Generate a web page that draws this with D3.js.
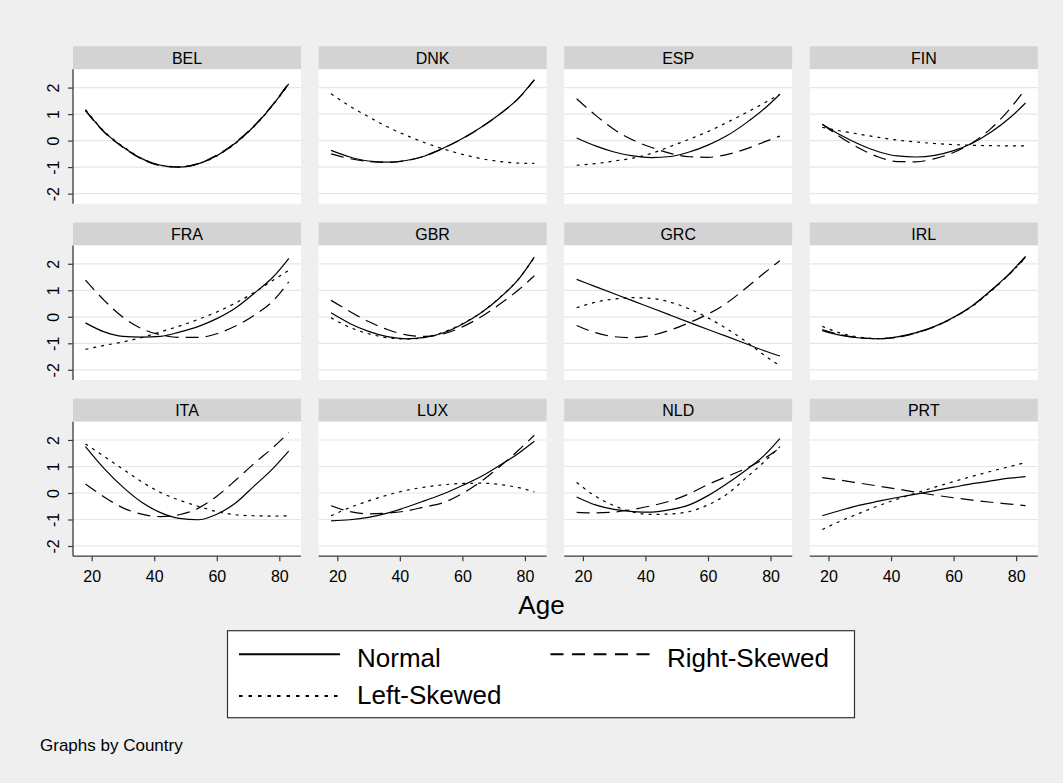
<!DOCTYPE html>
<html>
<head>
<meta charset="utf-8">
<script src="https://cdn.jsdelivr.net/npm/d3@7"></script>
<style>
  body { margin: 0; background: #efefef; }
  svg { display: block; }
  text { font-family: "Liberation Sans", Arial, Helvetica, sans-serif; fill: #000; }
</style>
</head>
<body>
<svg id="chart" width="1063" height="783"></svg>
<script>
// Facet order (left to right, top to bottom)
const countries = ["BEL", "DNK", "ESP", "FIN", "FRA", "GBR", "GRC", "IRL", "ITA", "LUX", "NLD", "PRT"];

// Ages at which each fitted profile is given
const ages = [18, 24, 30, 36, 42, 48, 54, 60, 66, 72, 78, 83];

// Fitted values per country (same order as countries), one array per distribution
const normalValues = [
  [1.15, 0.33, -0.24, -0.68, -0.93, -1.00, -0.88, -0.57, -0.09, 0.55, 1.36, 2.14],   // BEL
  [-0.37, -0.62, -0.77, -0.81, -0.75, -0.58, -0.28, 0.08, 0.50, 1.00, 1.60, 2.30],   // DNK
  [0.10, -0.20, -0.43, -0.58, -0.64, -0.60, -0.43, -0.17, 0.18, 0.65, 1.20, 1.75],   // ESP
  [0.62, 0.20, -0.15, -0.42, -0.58, -0.62, -0.56, -0.38, -0.10, 0.32, 0.86, 1.42],   // FIN
  [-0.23, -0.57, -0.74, -0.77, -0.74, -0.58, -0.37, -0.07, 0.33, 0.89, 1.50, 2.20],  // FRA
  [0.15, -0.25, -0.55, -0.75, -0.83, -0.78, -0.60, -0.28, 0.15, 0.72, 1.42, 2.25],   // GBR
  [1.41, 1.14, 0.87, 0.60, 0.33, 0.06, -0.21, -0.48, -0.74, -1.01, -1.28, -1.48],    // GRC
  [-0.52, -0.70, -0.80, -0.83, -0.76, -0.60, -0.36, -0.02, 0.42, 1.00, 1.65, 2.28],  // IRL
  [1.75, 0.92, 0.22, -0.35, -0.74, -0.96, -1.01, -0.80, -0.38, 0.27, 0.93, 1.58],    // ITA
  [-1.05, -1.01, -0.92, -0.76, -0.54, -0.29, -0.03, 0.28, 0.62, 1.05, 1.50, 1.95],   // LUX
  [-0.15, -0.45, -0.62, -0.70, -0.72, -0.63, -0.45, -0.10, 0.35, 0.85, 1.42, 2.05],  // NLD
  [-0.86, -0.65, -0.46, -0.31, -0.17, -0.04, 0.09, 0.22, 0.35, 0.46, 0.56, 0.62]     // PRT
];
const rightSkewedValues = [
  [1.13, 0.31, -0.26, -0.70, -0.95, -1.00, -0.87, -0.55, -0.07, 0.57, 1.38, 2.17],   // BEL
  [-0.50, -0.68, -0.79, -0.82, -0.76, -0.58, -0.28, 0.07, 0.50, 1.00, 1.60, 2.28],   // DNK
  [1.58, 0.96, 0.42, 0.02, -0.26, -0.48, -0.61, -0.63, -0.53, -0.32, -0.05, 0.17],   // ESP
  [0.62, 0.12, -0.30, -0.62, -0.79, -0.80, -0.68, -0.45, -0.08, 0.46, 1.20, 1.95],   // FIN
  [1.38, 0.62, -0.02, -0.45, -0.68, -0.78, -0.78, -0.64, -0.35, 0.06, 0.60, 1.32],   // FRA
  [0.62, 0.20, -0.18, -0.48, -0.68, -0.74, -0.64, -0.38, 0.00, 0.48, 1.02, 1.55],    // GBR
  [-0.33, -0.60, -0.75, -0.79, -0.70, -0.50, -0.22, 0.10, 0.52, 1.07, 1.65, 2.12],   // GRC
  [-0.48, -0.68, -0.79, -0.83, -0.77, -0.61, -0.37, -0.03, 0.41, 0.99, 1.63, 2.25],  // IRL
  [0.34, -0.15, -0.56, -0.80, -0.89, -0.82, -0.58, -0.12, 0.48, 1.12, 1.72, 2.28],   // ITA
  [-0.48, -0.70, -0.79, -0.76, -0.68, -0.52, -0.36, -0.02, 0.44, 1.00, 1.62, 2.18],  // LUX
  [-0.73, -0.75, -0.72, -0.62, -0.48, -0.30, -0.03, 0.32, 0.62, 0.92, 1.30, 1.70],   // NLD
  [0.58, 0.48, 0.37, 0.26, 0.15, 0.03, -0.08, -0.18, -0.27, -0.35, -0.42, -0.48]     // PRT
];
const leftSkewedValues = [
  [1.17, 0.35, -0.22, -0.67, -0.93, -0.99, -0.88, -0.58, -0.10, 0.54, 1.35, 2.12],   // BEL
  [1.77, 1.30, 0.90, 0.52, 0.20, -0.08, -0.32, -0.52, -0.68, -0.79, -0.85, -0.86],   // DNK
  [-0.93, -0.87, -0.77, -0.66, -0.48, -0.22, 0.05, 0.34, 0.68, 1.04, 1.42, 1.75],    // ESP
  [0.50, 0.36, 0.24, 0.12, 0.02, -0.05, -0.11, -0.15, -0.18, -0.19, -0.20, -0.20],   // FIN
  [-1.23, -1.08, -0.95, -0.78, -0.57, -0.35, -0.10, 0.18, 0.52, 0.92, 1.38, 1.75],   // FRA
  [-0.04, -0.40, -0.64, -0.79, -0.84, -0.78, -0.58, -0.26, 0.16, 0.73, 1.43, 2.25],  // GBR
  [0.34, 0.55, 0.67, 0.72, 0.69, 0.55, 0.30, -0.04, -0.45, -0.92, -1.45, -1.85],     // GRC
  [-0.36, -0.62, -0.77, -0.82, -0.77, -0.61, -0.37, -0.03, 0.40, 0.97, 1.62, 2.24],  // IRL
  [1.85, 1.38, 0.90, 0.42, 0.02, -0.27, -0.50, -0.70, -0.82, -0.86, -0.87, -0.86],   // ITA
  [-0.86, -0.55, -0.30, -0.08, 0.10, 0.22, 0.31, 0.36, 0.37, 0.32, 0.20, 0.04],      // LUX
  [0.40, -0.12, -0.48, -0.72, -0.81, -0.79, -0.70, -0.45, -0.05, 0.55, 1.18, 1.75],  // NLD
  [-1.38, -1.05, -0.76, -0.48, -0.23, 0.00, 0.22, 0.43, 0.63, 0.82, 1.00, 1.15]      // PRT
];

const seriesNames = ["Normal", "Right-Skewed", "Left-Skewed"];
const xTickValues = [20, 40, 60, 80];
const yTickValues = [-2, -1, 0, 1, 2];

// ---- layout ----
const nCols = 4;
const panelW = 228, panelH = 134.5, headerH = 23;
const colLeft = c => 73 + c * 245.6;
const rowTop = r => 69.3 + r * 176.2;

const lineStyles = [
  { dash: null },        // Normal
  { dash: "13,7" },      // Right-Skewed
  { dash: "3,5" }        // Left-Skewed
];
const legendDash = [null, "13,8.5", "3.5,6"];

const x = d3.scaleLinear().domain([14.02, 86.93]).range([0, panelW]);
const y = d3.scaleLinear().domain([-2.385, 2.69]).range([panelH, 0]);

const line = d3.line()
  .x(d => x(d[0]))
  .y(d => y(d[1]))
  .curve(d3.curveMonotoneX);

const svg = d3.select("#chart");
svg.append("rect").attr("width", 1063).attr("height", 783).attr("fill", "#efefef");

const allSeries = [normalValues, rightSkewedValues, leftSkewedValues];
const nRows = Math.ceil(countries.length / nCols);

countries.forEach((country, i) => {
  const c = i % nCols, r = Math.floor(i / nCols);
  const g = svg.append("g").attr("transform", `translate(${colLeft(c)},${rowTop(r)})`);

  // facet header
  g.append("rect")
    .attr("x", 0).attr("y", -headerH).attr("width", panelW).attr("height", headerH)
    .attr("fill", "#d3d3d3");
  g.append("text")
    .attr("x", panelW / 2).attr("y", -headerH / 2).attr("dy", "0.36em")
    .attr("text-anchor", "middle").attr("font-size", 16)
    .text(country);

  // plot region
  g.append("rect").attr("width", panelW).attr("height", panelH).attr("fill", "#ffffff");

  // horizontal grid
  g.selectAll("line.grid").data(yTickValues).join("line")
    .attr("class", "grid")
    .attr("x1", 0).attr("x2", panelW)
    .attr("y1", d => y(d)).attr("y2", d => y(d))
    .attr("stroke", "#e6e6e6").attr("stroke-width", 1.2);

  // fitted profiles
  allSeries.forEach((vals, s) => {
    const pts = ages.map((a, k) => [a, vals[i][k]]);
    g.append("path")
      .attr("d", line(pts))
      .attr("fill", "none")
      .attr("stroke", "#000")
      .attr("stroke-width", 1.2)
      .attr("stroke-dasharray", lineStyles[s].dash);
  });

  // y axis on the first column
  if (c === 0) {
    const ax = g.append("g").call(
      d3.axisLeft(y).tickValues(yTickValues).tickSize(5).tickSizeOuter(0).tickFormat(d => String(d))
    );
    ax.select(".domain").attr("stroke", "#3a3a3a").attr("stroke-width", 1.3)
      .attr("d", `M0,0V${panelH}`);
    ax.selectAll(".tick line").attr("stroke", "#3a3a3a").attr("stroke-width", 1.2);
    ax.selectAll(".tick text")
      .attr("x", null)
      .attr("transform", "translate(-19.4,0) rotate(-90)")
      .attr("text-anchor", "middle")
      .attr("dy", "0.36em")
      .attr("font-size", 16)
      .attr("font-family", null)
      .attr("fill", "#000");
  }

  // x axis on the bottom row
  if (r === nRows - 1) {
    const ax = g.append("g").attr("transform", `translate(0,${panelH})`).call(
      d3.axisBottom(x).tickValues(xTickValues).tickSize(5).tickSizeOuter(0).tickPadding(9)
    );
    ax.select(".domain").attr("stroke", "#3a3a3a").attr("stroke-width", 1.3)
      .attr("d", `M0,0H${panelW}`);
    ax.selectAll(".tick line").attr("stroke", "#3a3a3a").attr("stroke-width", 1.2);
    ax.selectAll(".tick text")
      .attr("font-size", 16)
      .attr("font-family", null)
      .attr("fill", "#000");
  }
});

// x axis title
svg.append("text")
  .attr("x", 541.5).attr("y", 613.5)
  .attr("text-anchor", "middle").attr("font-size", 26)
  .text("Age");

// legend
const legend = svg.append("g");
legend.append("rect")
  .attr("x", 227.5).attr("y", 630.7).attr("width", 627).attr("height", 87)
  .attr("fill", "#ffffff").attr("stroke", "#333").attr("stroke-width", 1.2);

const legendItems = [
  { name: seriesNames[0], lx: 239, ly: 654.3, tx: 357, ty: 657.3, s: 0 },
  { name: seriesNames[1], lx: 550.5, ly: 654.3, tx: 667, ty: 657.3, s: 1 },
  { name: seriesNames[2], lx: 239, ly: 696, tx: 357, ty: 694.5, s: 2 }
];
legendItems.forEach(it => {
  legend.append("line")
    .attr("x1", it.lx).attr("x2", it.lx + 101)
    .attr("y1", it.ly).attr("y2", it.ly)
    .attr("stroke", "#000").attr("stroke-width", 2)
    .attr("stroke-dasharray", legendDash[it.s]);
  legend.append("text")
    .attr("x", it.tx).attr("y", it.ty).attr("dy", "0.36em")
    .attr("font-size", 26)
    .text(it.name);
});

// note
svg.append("text")
  .attr("x", 40).attr("y", 751)
  .attr("font-size", 17)
  .text("Graphs by Country");
</script>
</body>
</html>
